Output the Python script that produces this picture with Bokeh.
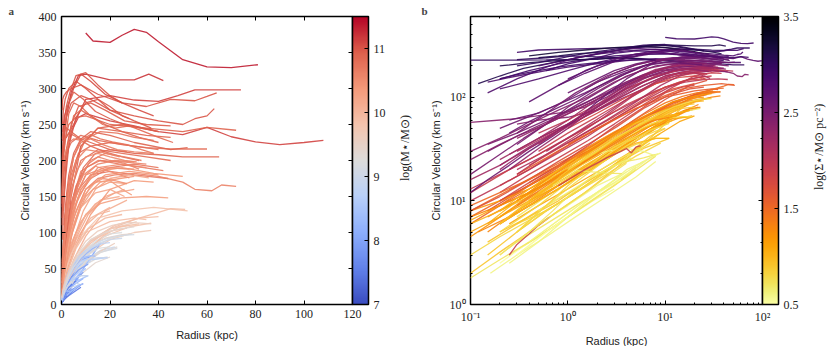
import numpy as np
from bokeh.plotting import figure
from bokeh.models import (ColumnDataSource, LinearColorMapper, ColorBar, FixedTicker,
                          LinearAxis, LogAxis, Label, CustomJSTickFormatter, Range1d)
from bokeh.layouts import row
from bokeh.transform import linear_cmap
from bokeh.palettes import Inferno256
from bokeh.embed import file_html
from bokeh.resources import INLINE

# ---------------- data: one rotation curve per galaxy ----------------
log_mstar = [
    11.35, 11.2, 11.1, 11.0, 11.0, 11.1, 10.9, 10.8, 10.9, 11.0, 10.9, 10.8, 11.0, 11.05, 10.95,
    10.8, 10.7, 10.6, 10.8, 10.7, 10.9, 10.6, 10.5, 10.9, 11.0, 10.4, 10.7, 10.8, 10.6, 10.75,
    10.3, 10.2, 10.4, 10.1, 10.3, 10.5, 10.0, 10.4, 10.2, 10.2, 10.35, 10.1, 10.25,
    9.9, 9.8, 9.7, 9.5, 9.9, 9.4, 9.6, 9.3, 9.8, 9.0, 9.9, 9.6, 9.7, 9.4,
    8.0, 7.5, 8.3, 8.5, 7.8, 8.7, 8.2, 7.2, 8.6, 8.8, 7.6, 8.4, 8.9, 9.1, 9.2,
    8.1, 7.9, 8.6, 7.4,
    7.7, 8.0, 8.3, 7.3, 8.9, 9.0, 9.2, 9.3, 7.6,
    10.9, 10.65, 10.15, 10.45,
    10.85, 10.75, 10.6, 10.5, 10.95, 10.45, 10.55, 10.35, 10.65, 10.05, 9.95, 9.75, 9.85,
    9.55, 9.2, 8.9, 8.45, 8.15, 7.85, 8.7, 7.6, 9.0, 8.3, 10.7, 10.6,
    8.2, 7.9, 7.5, 8.4, 8.8, 9.0, 9.1, 7.1, 7.8, 8.6, 9.4, 9.6,
    8.5, 8.4, 9.3,
]
log_sigma = [
    2.9, 3.1, 3.0, 2.9, 2.8, 2.7, 2.9, 2.8, 3.0, 3.2, 2.9, 3.1, 3.0, 3.1, 2.8,
    2.5, 2.4, 2.4, 2.6, 2.3, 2.5, 2.2, 2.5, 2.6, 2.7, 2.3, 2.4, 2.3, 2.5, 2.6,
    2.0, 1.9, 2.1, 1.8, 1.9, 2.2, 1.7, 2.0, 1.8, 2.0, 1.9, 1.7, 2.1,
    1.5, 1.4, 1.3, 1.5, 1.6, 1.3, 1.4, 1.2, 1.6, 1.3, 1.5, 1.3, 1.6, 1.1,
    0.9, 0.6, 1.0, 0.9, 0.7, 1.1, 0.8, 0.6, 1.0, 1.1, 0.7, 0.8, 0.6, 0.7, 0.9,
    0.8, 0.9, 1.2, 0.55,
    0.8, 1.0, 0.9, 0.5, 0.8, 1.0, 1.2, 1.0, 0.7,
    2.6, 2.3, 1.9, 2.2,
    2.7, 2.5, 2.2, 2.3, 2.8, 2.0, 2.4, 2.1, 2.5, 1.8, 1.7, 1.5, 1.4,
    1.2, 1.1, 1.0, 0.9, 0.8, 0.75, 1.3, 0.65, 0.7, 0.6, 2.9, 2.6,
    0.9, 0.8, 0.7, 1.0, 0.9, 1.0, 0.8, 0.5, 0.6, 0.8, 1.2, 1.4,
    0.6, 0.7, 1.9,
]
radius = [
    [10, 13, 20, 25, 30, 35, 40, 50, 60, 70, 81],
    [0.12, 0.2, 0.35, 0.6, 1, 2, 4, 7, 10, 20, 30, 36, 42],
    [0.1, 0.3, 0.6, 1, 2, 5, 10, 20, 30, 40, 48, 55, 74],
    [0.3, 0.5, 1, 2, 4, 8, 15, 25, 35, 45, 55, 60, 64],
    [0.5, 1, 2, 4, 8, 12, 20, 30, 40, 50, 55, 60, 63],
    [1, 2, 4, 7, 10, 20, 30, 40, 50, 60, 70, 80, 90, 100, 108],
    [0.2, 0.4, 0.8, 1.5, 3, 6, 10, 20, 35, 50, 60, 72],
    [0.15, 0.3, 0.6, 1, 2, 4, 8, 15, 25, 35, 45, 60],
    [0.3, 0.6, 1, 2, 4, 8, 12, 20, 30, 40, 50, 65],
    [0.4, 0.8, 1.5, 3, 6, 10, 15, 20, 25, 28],
    [0.6, 1, 2, 3, 5, 8, 12, 18, 25, 32, 40],
    [0.2, 0.4, 0.8, 1.5, 3, 5, 8, 12, 18, 25, 32],
    [0.3, 0.5, 0.8, 1.2, 2, 3.5, 6, 10, 15, 20, 25],
    [0.5, 0.8, 1.2, 2, 3, 5, 8, 12, 18, 25, 32, 38],
    [0.2, 0.5, 1, 2, 4, 7, 12, 18, 26, 35, 45],
    [0.1, 0.2, 0.35, 0.6, 1, 2, 4, 8, 15, 25, 35, 45],
    [0.1, 0.3, 0.6, 1, 1.5, 2.5, 4, 7, 12, 20, 30, 44],
    [0.3, 0.5, 1, 2, 3.5, 6, 10, 15, 22, 30, 40, 50, 55, 62, 66, 72],
    [0.25, 0.5, 1, 2, 4, 7, 12, 20, 30, 40],
    [0.5, 1, 2, 4, 7, 12, 20, 30, 40],
    [0.3, 0.6, 1, 2, 4, 8, 15, 25, 40],
    [0.2, 0.5, 1, 2, 4, 8, 15, 25, 35],
    [0.15, 0.3, 0.6, 1.2, 2.5, 5, 10, 18, 28],
    [1, 2, 3, 5, 8, 12, 20, 30, 45, 52],
    [0.8, 1.5, 3, 6, 10, 15, 20, 30, 37],
    [0.2, 0.4, 0.8, 1.5, 3, 6, 10, 16, 24, 30],
    [0.1, 0.2, 0.4, 0.8, 1.6, 3, 6, 10, 16, 24, 34, 42],
    [0.3, 0.6, 1.2, 2.4, 5, 9, 14, 20, 27],
    [0.15, 0.3, 0.6, 1.2, 2.5, 5, 9, 15, 22, 30],
    [0.2, 0.4, 0.8, 1.5, 3, 6, 10, 16, 23, 30, 38],
    [0.1, 0.2, 0.4, 0.8, 1.5, 3, 6, 10, 16, 25, 35, 44],
    [0.1, 0.25, 0.5, 1, 2, 4, 8, 14, 22, 30],
    [0.3, 0.6, 1.2, 2.5, 5, 10, 18, 28, 40],
    [0.4, 0.8, 1.5, 3, 6, 10, 16, 24],
    [0.5, 1, 2, 4, 8, 13, 20, 27],
    [0.25, 0.5, 1, 2, 4, 8, 15, 25, 35],
    [0.2, 0.4, 0.8, 1.6, 3, 6, 12, 20],
    [0.5, 1, 2, 4, 8, 15, 25, 38, 50],
    [1, 2, 4, 8, 14, 20, 26],
    [0.1, 0.2, 0.4, 0.8, 1.6, 3, 6, 11, 18, 26],
    [0.2, 0.4, 0.8, 1.6, 3, 6, 12, 20, 30, 38],
    [0.15, 0.3, 0.6, 1.2, 2.5, 5, 10, 18, 27],
    [0.3, 0.6, 1.2, 2.5, 5, 9, 14, 20, 28, 36],
    [0.1, 0.2, 0.4, 0.8, 1.5, 3, 6, 12, 20, 30, 40, 45, 51],
    [0.15, 0.3, 0.6, 1.2, 2.5, 5, 10, 18, 28, 37],
    [0.2, 0.4, 0.8, 1.6, 3, 6, 12, 20, 30, 37],
    [0.1, 0.3, 0.6, 1.2, 2.5, 5, 10, 18, 25, 29],
    [0.3, 0.6, 1.2, 2.5, 5, 10, 20, 30, 35],
    [0.15, 0.3, 0.6, 1.2, 2.5, 5, 10, 16, 23],
    [0.4, 0.8, 1.5, 3, 6, 12, 20, 28, 31],
    [0.1, 0.25, 0.5, 1, 2, 4, 8, 14, 19],
    [1, 2, 4, 8, 15, 25, 38, 52],
    [0.3, 0.6, 1.2, 2.5, 5, 10, 16, 22],
    [0.1, 0.2, 0.4, 0.8, 1.6, 3, 6, 12, 22, 32, 40],
    [0.12, 0.25, 0.5, 1, 2, 4, 8, 15, 22],
    [0.2, 0.4, 0.8, 1.6, 3, 6, 12, 20, 28],
    [0.25, 0.5, 1, 2, 4, 8, 14, 20],
    [0.1, 0.2, 0.4, 0.8, 1.5, 3, 6, 10, 16],
    [0.16, 0.3, 0.6, 1.2, 2.5, 5, 8],
    [0.1, 0.2, 0.4, 0.8, 1.6, 3, 6, 12],
    [0.2, 0.4, 0.8, 1.5, 3, 6, 11],
    [0.25, 0.5, 1, 2, 4, 8],
    [0.1, 0.2, 0.4, 0.8, 1.6, 3.2, 6, 12, 19],
    [0.3, 0.6, 1.2, 2.5, 5, 9],
    [0.5, 1, 2, 3.5],
    [0.4, 0.8, 1.5, 3, 6, 10, 13],
    [0.2, 0.5, 1, 2, 4, 8, 16],
    [0.3, 0.6, 1.2, 2, 3.5, 5],
    [1, 2, 3, 5, 8, 11],
    [1.2, 2.5, 4, 6, 8],
    [0.3, 0.6, 1.2, 2.5, 5, 10, 15, 23],
    [0.5, 1, 2, 4, 8, 15, 20],
    [0.1, 0.2, 0.4, 0.8, 1.5, 3, 5, 8],
    [0.15, 0.3, 0.6, 1.2, 2.5, 5, 9],
    [0.1, 0.2, 0.4, 0.8, 1.6, 3, 6, 10, 14],
    [0.3, 0.6, 1, 1.8, 3],
    [0.2, 0.5, 1, 2, 3, 5, 7],
    [0.15, 0.3, 0.6, 1.2, 2.5, 4, 6, 9, 12],
    [0.3, 0.6, 1.2, 2.5, 5, 8, 12, 16],
    [0.2, 0.4, 0.8, 1.5, 2.5, 4],
    [0.5, 1, 2, 4, 7, 11, 15, 19],
    [0.3, 0.6, 1.2, 2.5, 5, 8, 11],
    [0.2, 0.5, 1, 2, 4, 8, 14, 20, 25],
    [0.4, 0.8, 1.6, 3, 6, 12, 20, 29],
    [0.1, 0.2, 0.4, 0.8, 1.5, 3, 5],
    [0.1, 0.15, 0.25, 0.4, 0.7, 1.2, 2, 4, 8, 15, 25, 35, 45],
    [0.25, 0.5, 1, 2, 4, 7, 12, 18, 26, 33],
    [0.25, 0.3, 0.4, 0.5, 0.65],
    [0.1, 0.2, 0.4, 0.8, 1.5, 3, 6, 12, 20, 30],
    [0.4, 0.8, 1.5, 3, 5, 8, 12, 17, 22, 28, 34, 40, 46],
    [0.3, 0.6, 1.2, 2.5, 5, 8, 12, 16, 21, 27, 33, 38],
    [0.5, 1, 2, 4, 7, 11, 15, 20, 26, 32],
    [0.2, 0.4, 0.8, 1.6, 3, 6, 10, 14, 19, 24, 28],
    [0.15, 0.3, 0.6, 1.2, 2.5, 5, 9, 14, 20, 26, 33, 40],
    [0.3, 0.6, 1.2, 2.4, 4.5, 8, 12, 17, 22, 27],
    [0.1, 0.2, 0.4, 0.8, 1.6, 3, 6, 10, 15, 20, 26, 31],
    [0.6, 1.2, 2.5, 5, 9, 14, 20, 25, 29],
    [1.5, 3, 5, 8, 12, 17, 23, 30, 38],
    [0.2, 0.4, 0.8, 1.6, 3, 6, 10, 15, 20],
    [0.1, 0.2, 0.4, 0.8, 1.6, 3.2, 6, 11, 18, 25],
    [0.1, 0.2, 0.4, 0.8, 1.6, 3, 6, 12, 20, 27],
    [0.3, 0.6, 1.2, 2.5, 5, 10, 17, 24, 32],
    [0.2, 0.4, 0.8, 1.6, 3.2, 6, 11, 17],
    [0.1, 0.2, 0.4, 0.8, 1.5, 3, 6, 10, 14, 18],
    [0.2, 0.4, 0.8, 1.6, 3, 5, 8, 12],
    [0.15, 0.3, 0.6, 1.2, 2.4, 4.5, 7, 10],
    [0.3, 0.6, 1.2, 2.5, 4.5, 7],
    [0.2, 0.4, 0.8, 1.5, 2.5, 4],
    [0.1, 0.2, 0.4, 0.8, 1.6, 3, 5, 8, 11],
    [0.5, 1, 1.8, 3, 4.5],
    [2, 3, 4, 5, 6, 8],
    [0.4, 0.8, 1.5, 2.5, 4, 6],
    [0.2, 0.3, 0.5, 0.8, 1.2, 2, 3, 5, 8],
    [0.25, 0.4, 0.7, 1.2, 2, 3.5, 6, 10, 16, 24],
    [0.2, 0.4, 0.7, 1.1, 1.6, 2.3, 3.2, 4.5, 6, 8, 10, 13, 16],
    [0.3, 0.6, 1, 1.5, 2.2, 3, 4, 5.5, 7, 9, 11],
    [0.2, 0.4, 0.7, 1, 1.5, 2, 3, 4.5, 6],
    [0.2, 0.4, 0.8, 1.3, 2, 3, 4.5, 6, 8, 10, 12, 14],
    [0.5, 1, 2, 3, 5, 7, 10, 13, 17, 20],
    [0.4, 0.8, 1.5, 3, 5, 8, 12, 16, 20, 25],
    [1, 2, 3, 5, 8, 12, 16, 20, 25, 30],
    [0.3, 0.6, 1, 1.6, 2.4, 3.5],
    [0.25, 0.5, 1, 2, 3, 4, 5.5, 7, 9],
    [0.3, 0.6, 1.2, 2.5, 4, 6, 8, 10],
    [0.3, 0.6, 1.2, 2.4, 4.5, 8, 12, 18, 24, 30],
    [0.2, 0.4, 0.8, 1.6, 3.2, 6, 10, 15, 21, 27, 33, 37],
    [2.2, 3, 4, 5.5, 7, 8.4],
    [0.7, 1, 1.25, 1.8, 2.5, 3.6],
    [0.8, 1.5, 2.5, 3.5, 4, 4.5, 5, 5.6],
]
velocity = [
    [377, 366, 364, 374, 382, 378, 365, 340, 330, 329, 333],
    [135, 160, 190, 210, 230, 260, 295, 318, 320, 312, 312, 320, 311],
    [228, 228, 229, 230, 232, 250, 285, 290, 284, 282, 290, 298, 298],
    [270, 285, 290, 295, 300, 305, 292, 280, 275, 285, 283, 289, 294],
    [200, 230, 260, 280, 290, 285, 270, 262, 255, 250, 258, 262, 272],
    [150, 200, 240, 260, 265, 255, 248, 240, 236, 246, 233, 226, 222, 225, 228],
    [150, 180, 210, 230, 250, 260, 262, 250, 245, 240, 246, 242],
    [140, 160, 180, 195, 210, 225, 235, 228, 222, 218, 216, 216],
    [230, 240, 250, 245, 240, 230, 225, 215, 210, 208, 205, 205],
    [250, 270, 285, 300, 310, 300, 285, 275, 262, 258],
    [180, 210, 240, 265, 280, 275, 262, 250, 240, 232, 225],
    [200, 215, 225, 232, 238, 235, 228, 220, 212, 205, 200],
    [200, 215, 235, 255, 275, 295, 318, 322, 305, 290, 280],
    [240, 250, 262, 270, 280, 300, 320, 310, 292, 280, 270, 262],
    [120, 150, 180, 215, 250, 275, 280, 270, 255, 250, 248],
    [18, 28, 40, 55, 75, 110, 160, 200, 215, 210, 205, 200],
    [57, 62, 68, 72, 80, 100, 130, 160, 180, 185, 180, 175],
    [55, 60, 64, 75, 100, 130, 160, 175, 180, 182, 178, 170, 160, 158, 166, 164],
    [60, 70, 95, 140, 180, 210, 220, 225, 220, 215],
    [40, 55, 80, 120, 150, 175, 190, 195, 190],
    [35, 55, 80, 120, 170, 220, 245, 250, 240],
    [25, 40, 60, 95, 140, 185, 200, 198, 195],
    [30, 42, 55, 75, 105, 145, 180, 190, 188],
    [110, 150, 180, 210, 230, 240, 235, 225, 215, 218],
    [130, 170, 220, 260, 280, 285, 270, 255, 245],
    [22, 33, 48, 65, 90, 120, 150, 170, 175, 178],
    [25, 35, 48, 65, 90, 125, 165, 190, 200, 195, 190, 186],
    [40, 55, 75, 105, 150, 190, 210, 215, 212],
    [35, 45, 60, 80, 110, 150, 180, 195, 200, 198],
    [50, 65, 85, 110, 150, 200, 230, 240, 238, 232, 228],
    [13, 18, 25, 36, 50, 72, 100, 125, 140, 148, 150, 148],
    [12, 20, 28, 40, 58, 85, 115, 140, 155, 160],
    [30, 42, 58, 85, 120, 160, 180, 185, 180],
    [22, 32, 45, 65, 95, 125, 145, 150],
    [30, 45, 65, 95, 135, 160, 170, 168],
    [28, 40, 55, 80, 115, 160, 190, 195, 190],
    [14, 20, 30, 44, 62, 90, 120, 135],
    [45, 60, 85, 120, 160, 185, 190, 182, 178],
    [50, 70, 100, 135, 155, 160, 150],
    [10, 14, 20, 29, 42, 62, 92, 125, 150, 160],
    [12, 18, 26, 38, 55, 85, 125, 160, 172, 170],
    [8, 12, 18, 27, 40, 62, 95, 130, 145],
    [20, 28, 40, 60, 90, 130, 160, 175, 180, 176],
    [6, 9, 13, 19, 27, 40, 60, 85, 105, 118, 128, 133, 132],
    [7, 10, 15, 22, 33, 50, 75, 95, 108, 113],
    [6, 9, 14, 21, 32, 48, 72, 90, 100, 103],
    [8, 14, 20, 28, 40, 58, 78, 92, 97, 98],
    [18, 26, 38, 55, 78, 100, 115, 120, 118],
    [5, 8, 12, 18, 27, 40, 58, 72, 80],
    [15, 22, 32, 46, 65, 88, 105, 112, 115],
    [4.5, 8, 12, 17, 25, 37, 52, 63, 66],
    [35, 50, 70, 95, 120, 130, 135, 130],
    [10, 15, 22, 32, 45, 62, 75, 80],
    [7, 10, 14, 20, 29, 42, 62, 88, 110, 120, 122],
    [5, 7, 10, 15, 22, 33, 50, 72, 85],
    [10, 14, 20, 30, 44, 64, 90, 105, 110],
    [6, 9, 13, 19, 28, 42, 58, 66],
    [2, 3.2, 5, 8, 12, 20, 35, 55, 85],
    [2, 3, 4.5, 7, 11, 17, 24],
    [6, 8, 11, 15, 22, 33, 50, 67],
    [5, 7, 10, 15, 22, 32, 40],
    [3, 4.5, 7, 11, 17, 27],
    [6.5, 9, 12, 17, 24, 35, 50, 62, 65],
    [6, 8, 12, 18, 27, 36],
    [6, 9, 14, 18],
    [10, 15, 22, 32, 45, 60, 67],
    [8, 13, 19, 28, 42, 62, 85],
    [4, 6, 9, 12, 16, 21],
    [15, 22, 28, 35, 40, 40],
    [25, 30, 32, 30, 27],
    [7, 11, 17, 26, 40, 60, 72, 78],
    [15, 22, 32, 46, 62, 78, 80],
    [3, 4.5, 6.5, 9.5, 14, 22, 32, 42],
    [4, 6, 9, 13, 20, 31, 45],
    [8, 10, 13, 18, 26, 38, 55, 65, 70],
    [3, 5, 7, 10, 13],
    [5, 9, 15, 25, 33, 42, 48],
    [6, 10, 16, 26, 40, 52, 58, 63, 66],
    [8, 13, 21, 33, 50, 65, 78, 85],
    [2.5, 4, 6.5, 10, 14, 19],
    [12, 18, 28, 42, 55, 63, 65, 65],
    [8, 12, 18, 27, 36, 40, 40],
    [7, 13, 21, 33, 50, 70, 88, 98, 100],
    [10, 16, 25, 38, 55, 75, 92, 98],
    [1.8, 2.7, 4, 6, 9, 14, 20],
    [12, 16, 22, 30, 42, 60, 90, 150, 220, 245, 240, 235, 232],
    [20, 32, 50, 80, 125, 170, 200, 210, 205, 200],
    [3, 3.8, 4.8, 5.8, 7],
    [16, 22, 32, 46, 65, 95, 140, 180, 190, 188],
    [90, 130, 180, 230, 262, 270, 262, 250, 245, 248, 240, 232, 225],
    [45, 70, 110, 160, 205, 228, 236, 230, 226, 222, 215, 210],
    [35, 55, 85, 130, 170, 195, 205, 200, 196, 188],
    [20, 32, 48, 72, 105, 150, 180, 192, 186, 180, 176],
    [110, 150, 195, 240, 275, 295, 285, 268, 258, 250, 245, 240],
    [18, 28, 42, 65, 100, 140, 165, 175, 172, 168],
    [30, 40, 55, 75, 100, 140, 185, 205, 210, 205, 200, 198],
    [30, 45, 70, 110, 150, 170, 172, 160, 152],
    [120, 170, 205, 225, 230, 222, 215, 212, 210],
    [10, 15, 22, 34, 52, 80, 110, 125, 130],
    [8, 11, 16, 24, 35, 52, 78, 105, 120, 125],
    [9, 12, 16, 22, 30, 42, 62, 88, 102, 106],
    [9, 14, 21, 32, 48, 72, 95, 108, 112],
    [6, 9, 13, 20, 30, 45, 63, 75],
    [5, 7, 10, 14, 20, 30, 45, 60, 70, 75],
    [6, 9, 13, 19, 28, 38, 50, 60],
    [3, 5, 8, 12, 19, 30, 42, 50],
    [5, 8, 12, 19, 28, 36],
    [3, 5, 8, 12, 17, 23],
    [7, 9, 12, 17, 25, 37, 50, 60, 64],
    [8, 12, 17, 22, 26],
    [18, 22, 24, 25, 26, 28],
    [4, 6.5, 10, 14, 19, 24],
    [150, 165, 180, 195, 205, 215, 225, 230, 228],
    [45, 58, 75, 95, 125, 165, 200, 215, 212, 205],
    [6, 10, 15, 21, 27, 33, 40, 48, 56, 63, 70, 78, 84],
    [5, 9, 14, 19, 25, 31, 37, 42, 48, 52, 56],
    [3, 5, 8, 11, 15, 19, 24, 29, 33],
    [8, 13, 20, 28, 37, 46, 55, 60, 64, 66, 68, 67],
    [14, 21, 32, 42, 56, 66, 75, 80, 85, 86],
    [10, 16, 25, 38, 52, 66, 78, 86, 90, 92],
    [20, 30, 40, 52, 66, 80, 88, 93, 96, 97],
    [3, 5, 7, 10, 13, 16],
    [2.5, 4, 7, 12, 16, 20, 23, 26, 29],
    [5, 9, 15, 25, 34, 42, 47, 50],
    [10, 16, 25, 38, 55, 75, 90, 100, 105, 108],
    [9, 14, 21, 32, 47, 68, 88, 102, 110, 114, 113, 112],
    [12.6, 15, 18, 22, 26, 28.5],
    [14, 17, 19.6, 19, 18.5, 18.3],
    [14, 20, 26, 30, 32, 29, 33, 34],
]

x_ticks_a = [0, 20, 40, 60, 80, 100, 120]
y_ticks_a = [0, 50, 100, 150, 200, 250, 300, 350, 400]
cbar_ticks_a = [7, 8, 9, 10, 11]
cbar_ticks_b = [0.5, 1.5, 2.5, 3.5]
cbar_title_a = "log(M⋆/M⊙)"
cbar_title_b = "log(Σ⋆/M⊙ pc⁻²)"

# ---------------- palettes ----------------
cw_anchor = [(58, 76, 192), (98, 130, 234), (141, 175, 253), (184, 208, 249), (221, 220, 219),
             (244, 196, 173), (244, 154, 122), (222, 96, 76), (180, 4, 38)]
_pos = np.linspace(0, 1, len(cw_anchor))
_t = np.linspace(0, 1, 256)
_arr = np.array(cw_anchor, dtype=float)
coolwarm = ["#%02x%02x%02x" % tuple(int(round(np.interp(t, _pos, _arr[:, k]))) for k in range(3)) for t in _t]
inferno_r = list(Inferno256)[::-1]

src = ColumnDataSource(dict(radius=radius, velocity=velocity, log_mstar=log_mstar, log_sigma=log_sigma))

SERIF = "Liberation Serif"
SANS = "Liberation Sans"
H = 342


def style_axis(ax, labels=True):
    ax.major_tick_in = 4
    ax.major_tick_out = 0
    ax.minor_tick_in = 2
    ax.minor_tick_out = 0
    ax.axis_line_color = None
    ax.major_tick_line_color = "black"
    ax.minor_tick_line_color = "black"
    ax.major_label_text_font = SERIF
    ax.major_label_text_font_size = "12px"
    ax.major_label_text_color = "#222222"
    ax.axis_label_text_font = SANS
    ax.axis_label_text_font_size = "11px"
    ax.axis_label_text_font_style = "normal"
    ax.axis_label_text_color = "#222222"
    if not labels:
        ax.formatter = CustomJSTickFormatter(code="return '';")
        ax.major_label_standoff = 0


def make_colorbar(mapper, ticks):
    return ColorBar(color_mapper=mapper, ticker=FixedTicker(ticks=ticks), width=16,
                    padding=0, margin=4, label_standoff=5,
                    major_label_text_font=SERIF, major_label_text_font_size="12px",
                    major_label_text_color="#222222",
                    major_tick_line_color="black", major_tick_in=4, major_tick_out=0,
                    minor_tick_line_color=None,
                    bar_line_color="black", bar_line_width=1.5,
                    border_line_color=None, background_fill_alpha=0)


def panel_letter(p, letter, offset):
    p.title.text = letter
    p.title.align = "left"
    p.title.offset = offset
    p.title.standoff = 0
    p.title.text_font = SERIF
    p.title.text_font_size = "11px"
    p.title.text_font_style = "bold"


def title_strip(text, width):
    f = figure(width=width, height=H, x_range=Range1d(0, 1), y_range=Range1d(0, 1),
               output_backend="svg", toolbar_location=None,
               min_border_left=0, min_border_right=0, min_border_top=0, min_border_bottom=0)
    f.axis.visible = False
    f.grid.visible = False
    f.outline_line_color = None
    f.add_layout(Label(x=0.5, y=1 - 160 / H, text=text, angle=90, angle_units="deg",
                       text_font=SERIF, text_font_size="12px", text_color="#222222",
                       text_align="center", text_baseline="middle"))
    return f


# ---------------- panel a ----------------
pa = figure(frame_width=291, frame_height=288, x_range=Range1d(0, 120), y_range=Range1d(0, 400),
            output_backend="svg", toolbar_location=None,
            min_border_left=61, min_border_right=42, min_border_top=16, min_border_bottom=38)
pa.grid.visible = False
pa.outline_line_color = "black"
pa.outline_line_width = 1.5
pa.xaxis.ticker = FixedTicker(ticks=x_ticks_a)
pa.yaxis.ticker = FixedTicker(ticks=y_ticks_a)
pa.xaxis.axis_label = "Radius (kpc)"
pa.yaxis.axis_label = "Circular Velocity (km s⁻¹)"
for ax in pa.axis:
    style_axis(ax)
    ax.minor_tick_in = 0
pa.xaxis.axis_label_standoff = 8
top_a = LinearAxis(ticker=FixedTicker(ticks=x_ticks_a))
right_a = LinearAxis(ticker=FixedTicker(ticks=y_ticks_a))
for ax in (top_a, right_a):
    style_axis(ax, labels=False)
    ax.minor_tick_in = 0
pa.add_layout(top_a, "above")
pa.add_layout(right_a, "right")
panel_letter(pa, "a", -53)

pa.multi_line(xs="radius", ys="velocity", source=src,
              line_color=linear_cmap("log_mstar", coolwarm, 7, 11.5),
              line_width=1.3, line_alpha=0.9)

mapper_a = LinearColorMapper(palette=coolwarm, low=7, high=11.5)
pa.add_layout(make_colorbar(mapper_a, cbar_ticks_a), "right")

# ---------------- panel b ----------------
pb = figure(frame_width=292, frame_height=288, x_axis_type="log", y_axis_type="log",
            x_range=Range1d(0.1, 100), y_range=Range1d(1, 600),
            output_backend="svg", toolbar_location=None,
            min_border_left=56, min_border_right=44, min_border_top=16, min_border_bottom=38)
pb.grid.visible = False
pb.outline_line_color = "black"
pb.outline_line_width = 1.5
fmt_code = """
const e = Math.round(Math.log10(tick));
const m = {"-1": "⁻¹", "0": "⁰", "1": "¹", "2": "²", "3": "³"};
return "10" + m[String(e)];
"""
pb.xaxis.formatter = CustomJSTickFormatter(code=fmt_code)
pb.yaxis.formatter = CustomJSTickFormatter(code=fmt_code)
pb.xaxis.axis_label = "Radius (kpc)"
pb.yaxis.axis_label = "Circular Velocity (km s⁻¹)"
for ax in pb.axis:
    style_axis(ax)
pb.xaxis.axis_label_standoff = 8
top_b = LogAxis()
right_b = LogAxis()
for ax in (top_b, right_b):
    style_axis(ax, labels=False)
pb.add_layout(top_b, "above")
pb.add_layout(right_b, "right")
panel_letter(pb, "b", -49)

pb.multi_line(xs="radius", ys="velocity", source=src,
              line_color=linear_cmap("log_sigma", inferno_r, 0.5, 3.5),
              line_width=1.3, line_alpha=0.9)

mapper_b = LinearColorMapper(palette=inferno_r, low=0.5, high=3.5)
pb.add_layout(make_colorbar(mapper_b, cbar_ticks_b), "right")

p = row(pa, title_strip(cbar_title_a, 20), pb, title_strip(cbar_title_b, 24))
open("out.html", "w").write(file_html(p, INLINE))
